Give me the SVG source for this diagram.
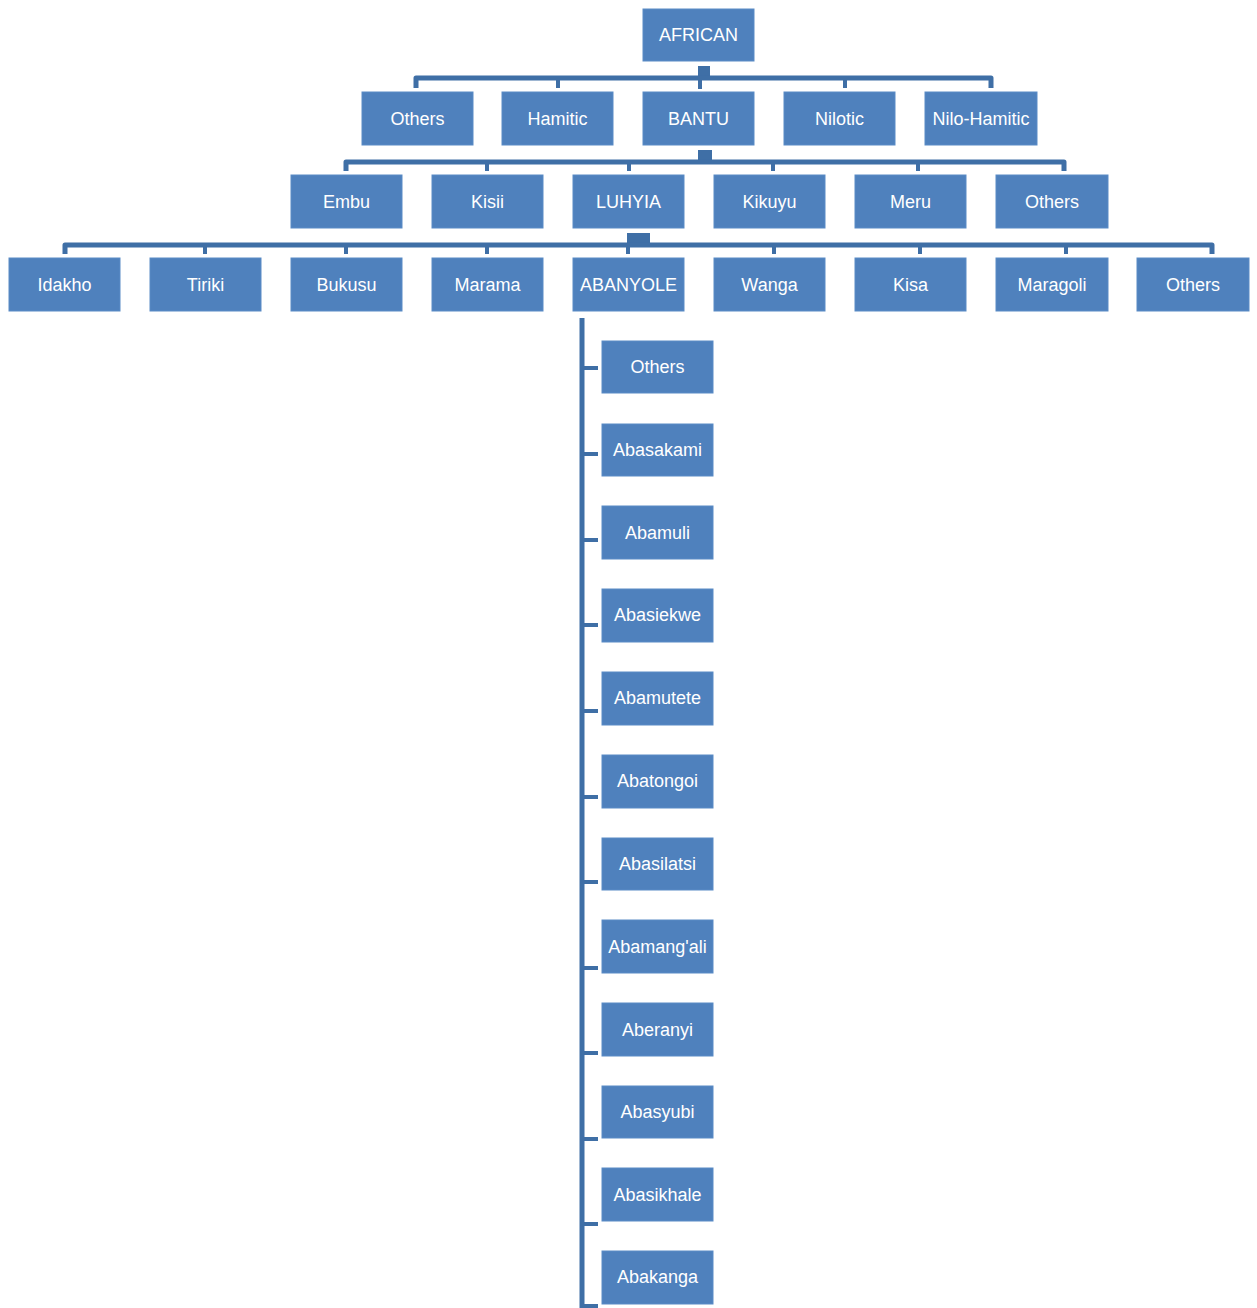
<svg xmlns="http://www.w3.org/2000/svg" width="1257" height="1308" viewBox="0 0 1257 1308">
<style>
.box{fill:#4f81bd;stroke:#5a8bc6;stroke-width:1}
.lbl{fill:#ffffff;font-family:"Liberation Sans",Arial,sans-serif;font-size:18px;text-anchor:middle}
.ln{fill:none;stroke:#3f6fa6;stroke-width:5;stroke-linejoin:round;stroke-linecap:butt}
.tk{fill:none;stroke:#3f6fa6;stroke-width:4}
.sq{fill:#3f6fa6}
</style>
<rect width="1257" height="1308" fill="#ffffff"/>
<g id="connectors">
  <rect class="sq" x="698" y="66" width="12" height="12"/>
  <path class="ln" d="M416 88 V78 H991 V88"/>
  <path class="tk" d="M558 78 V88 M700 78 V89 M845 78 V88"/>
  <rect class="sq" x="698" y="150" width="14" height="12"/>
  <path class="ln" d="M346 171 V162 H1064 V171"/>
  <path class="tk" d="M487 162 V171 M629 162 V171 M773 162 V171 M918 162 V171"/>
  <rect class="sq" x="627" y="233" width="23" height="12"/>
  <path class="ln" d="M65 254 V245 H1212 V254"/>
  <path class="tk" d="M205 245 V254 M346 245 V254 M487 245 V254 M628 245 V254 M774 245 V254 M920 245 V254 M1066 245 V254"/>
  <path class="ln" d="M582 318 V1308"/>
  <path class="tk" d="M582 368 H598 M582 454 H598 M582 540 H598 M582 625 H598 M582 711 H598 M582 797 H598 M582 882 H598 M582 968 H598 M582 1053 H598 M582 1139 H598 M582 1224 H598 M582 1306 H598"/>
</g>
<g id="n-african"><rect class="box" x="643" y="9" width="111" height="52"/><text class="lbl" x="698.5" y="41">AFRICAN</text></g>
<g id="n-others1"><rect class="box" x="362" y="92" width="111" height="53"/><text class="lbl" x="417.5" y="125">Others</text></g>
<g id="n-hamitic"><rect class="box" x="502" y="92" width="111" height="53"/><text class="lbl" x="557.5" y="125">Hamitic</text></g>
<g id="n-bantu"><rect class="box" x="643" y="92" width="111" height="53"/><text class="lbl" x="698.5" y="125">BANTU</text></g>
<g id="n-nilotic"><rect class="box" x="784" y="92" width="111" height="53"/><text class="lbl" x="839.5" y="125">Nilotic</text></g>
<g id="n-nilohamitic"><rect class="box" x="925" y="92" width="112" height="53"/><text class="lbl" x="981" y="125">Nilo-Hamitic</text></g>
<g id="n-embu"><rect class="box" x="291" y="175" width="111" height="53"/><text class="lbl" x="346.5" y="208">Embu</text></g>
<g id="n-kisii"><rect class="box" x="432" y="175" width="111" height="53"/><text class="lbl" x="487.5" y="208">Kisii</text></g>
<g id="n-luhyia"><rect class="box" x="573" y="175" width="111" height="53"/><text class="lbl" x="628.5" y="208">LUHYIA</text></g>
<g id="n-kikuyu"><rect class="box" x="714" y="175" width="111" height="53"/><text class="lbl" x="769.5" y="208">Kikuyu</text></g>
<g id="n-meru"><rect class="box" x="855" y="175" width="111" height="53"/><text class="lbl" x="910.5" y="208">Meru</text></g>
<g id="n-others2"><rect class="box" x="996" y="175" width="112" height="53"/><text class="lbl" x="1052" y="208">Others</text></g>
<g id="n-idakho"><rect class="box" x="9" y="258" width="111" height="53"/><text class="lbl" x="64.5" y="291">Idakho</text></g>
<g id="n-tiriki"><rect class="box" x="150" y="258" width="111" height="53"/><text class="lbl" x="205.5" y="291">Tiriki</text></g>
<g id="n-bukusu"><rect class="box" x="291" y="258" width="111" height="53"/><text class="lbl" x="346.5" y="291">Bukusu</text></g>
<g id="n-marama"><rect class="box" x="432" y="258" width="111" height="53"/><text class="lbl" x="487.5" y="291">Marama</text></g>
<g id="n-abanyole"><rect class="box" x="573" y="258" width="111" height="53"/><text class="lbl" x="628.5" y="291">ABANYOLE</text></g>
<g id="n-wanga"><rect class="box" x="714" y="258" width="111" height="53"/><text class="lbl" x="769.5" y="291">Wanga</text></g>
<g id="n-kisa"><rect class="box" x="855" y="258" width="111" height="53"/><text class="lbl" x="910.5" y="291">Kisa</text></g>
<g id="n-maragoli"><rect class="box" x="996" y="258" width="112" height="53"/><text class="lbl" x="1052" y="291">Maragoli</text></g>
<g id="n-others3"><rect class="box" x="1137" y="258" width="112" height="53"/><text class="lbl" x="1193" y="291">Others</text></g>
<g id="n-others4"><rect class="box" x="602" y="341" width="111" height="52"/><text class="lbl" x="657.5" y="373">Others</text></g>
<g id="n-abasakami"><rect class="box" x="602" y="424" width="111" height="52"/><text class="lbl" x="657.5" y="456">Abasakami</text></g>
<g id="n-abamuli"><rect class="box" x="602" y="506" width="111" height="53"/><text class="lbl" x="657.5" y="539">Abamuli</text></g>
<g id="n-abasiekwe"><rect class="box" x="602" y="589" width="111" height="53"/><text class="lbl" x="657.5" y="621">Abasiekwe</text></g>
<g id="n-abamutete"><rect class="box" x="602" y="672" width="111" height="53"/><text class="lbl" x="657.5" y="704">Abamutete</text></g>
<g id="n-abatongoi"><rect class="box" x="602" y="755" width="111" height="53"/><text class="lbl" x="657.5" y="787">Abatongoi</text></g>
<g id="n-abasilatsi"><rect class="box" x="602" y="838" width="111" height="52"/><text class="lbl" x="657.5" y="870">Abasilatsi</text></g>
<g id="n-abamangali"><rect class="box" x="602" y="920" width="111" height="53"/><text class="lbl" x="657.5" y="953">Abamang'ali</text></g>
<g id="n-aberanyi"><rect class="box" x="602" y="1003" width="111" height="53"/><text class="lbl" x="657.5" y="1036">Aberanyi</text></g>
<g id="n-abasyubi"><rect class="box" x="602" y="1086" width="111" height="52"/><text class="lbl" x="657.5" y="1118">Abasyubi</text></g>
<g id="n-abasikhale"><rect class="box" x="602" y="1168" width="111" height="53"/><text class="lbl" x="657.5" y="1201">Abasikhale</text></g>
<g id="n-abakanga"><rect class="box" x="602" y="1251" width="111" height="53"/><text class="lbl" x="657.5" y="1283">Abakanga</text></g>
</svg>
